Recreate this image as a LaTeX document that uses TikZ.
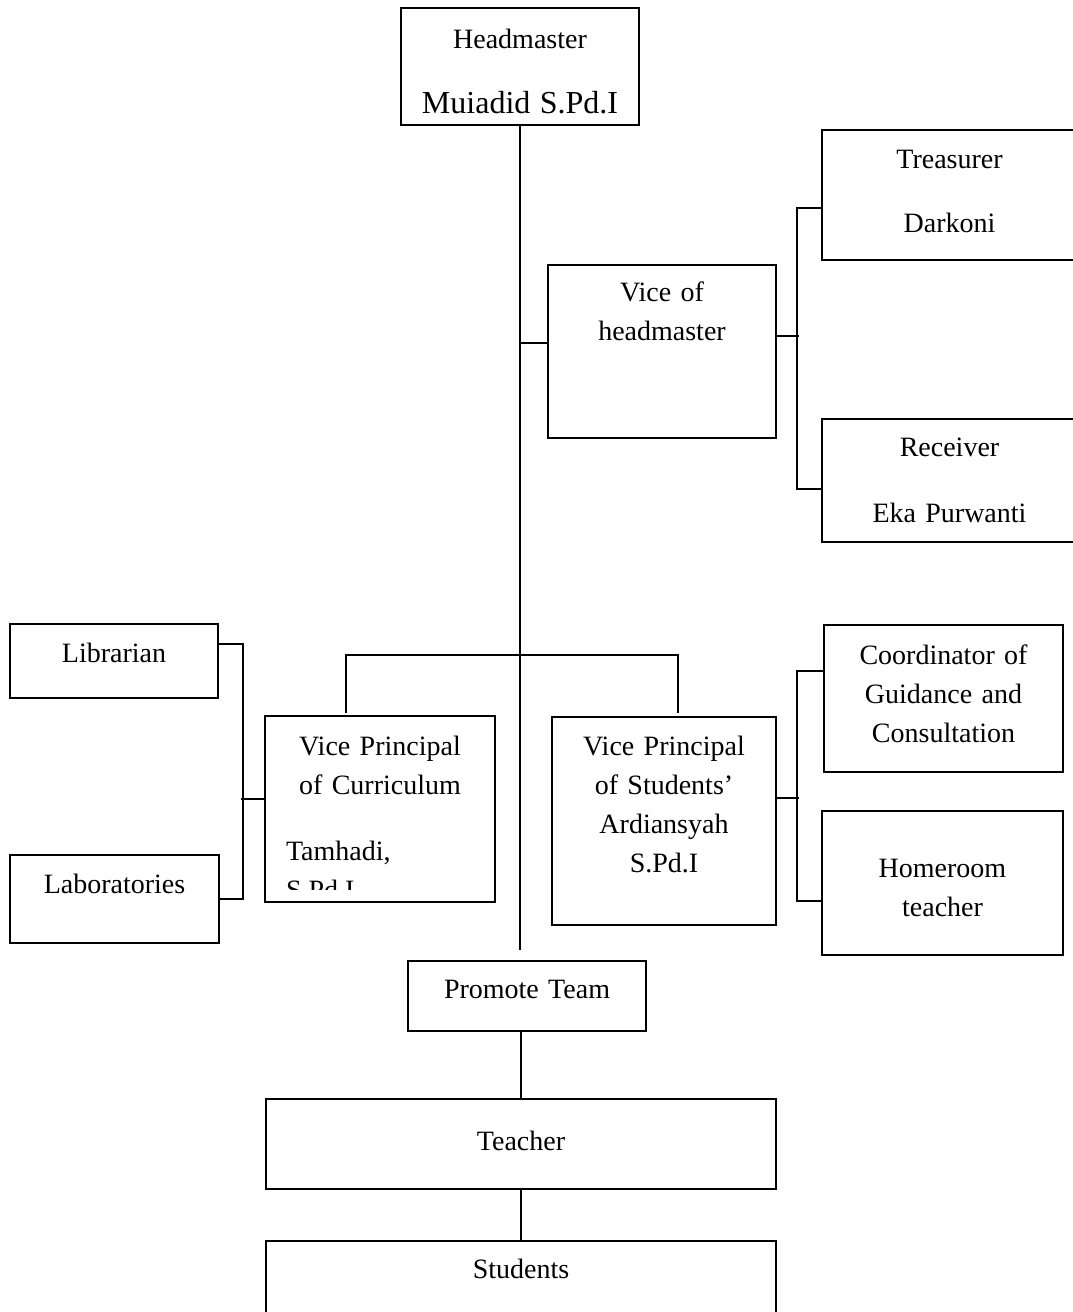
\documentclass[tikz,border=0pt]{standalone}
\usepackage{fontspec}
\setmainfont{Liberation Serif}
\usepackage{tikz}
\usetikzlibrary{positioning, calc}
\definecolor{sline}{HTML}{000000}
\tikzset{
  x=1pt, y=-1pt,
  unit/.style n args={3}{
    draw=sline, line width=2pt, inner sep=0pt, anchor=north west,
    align=center, font=\fontsize{28}{39}\selectfont,
    text width=#1pt, text height=#2pt, text depth=#3pt
  },
  link/.style={draw=sline, line width=1.9pt}
}
\begin{document}
\begin{tikzpicture}
  \useasboundingbox (0,0) rectangle (1073,1312);
  % top of the chart
  \node[unit={238}{40}{77}] (hm) at (400,7)
    {Headmaster\\[26pt]{\fontsize{32}{39}\selectfont Muiadid S.Pd.I}};
  \node[unit={228}{36}{137}] (vh) at (547,264) {Vice of\\headmaster};
  \node[unit={255}{38}{92}] (tre) at (821,129) {Treasurer\\[25pt]Darkoni};
  \node[unit={255}{37}{86}] (rec) at (821,418) {Receiver\\[27pt]Eka Purwanti};
  % middle row
  \node[unit={208}{38}{36}] (lib) at (9,623) {Librarian};
  \node[unit={209}{38}{50}] (lab) at (9,854) {Laboratories};
  \begin{scope}
    \clip (0,0) rectangle (1073,889);
    \node[unit={228}{38}{146}, draw=none] (cur) at (265,716)
      {Vice Principal\\of Curriculum\\[27pt]%
       \makebox[228pt][l]{\hspace{20pt}Tamhadi,}\\
       \makebox[228pt][l]{\hspace{20pt}S.Pd.I}};
  \end{scope}
  \draw[link, line width=2pt] (cur.north west) rectangle (cur.south east);
  \node[unit={224}{38}{170}] (svp) at (551,716)
    {Vice Principal\\of Students’\\Ardiansyah\\S.Pd.I};
  \node[unit={239}{39}{108}] (crd) at (823,624)
    {Coordinator of\\Guidance and\\Consultation};
  \node[unit={241}{66}{78}] (hom) at (821,810) {Homeroom\\teacher};
  % bottom
  \node[unit={238}{37}{33}] (pro) at (407,960) {Promote Team};
  \node[unit={510}{51}{39}] (tea) at (265,1098) {Teacher};
  \node[unit={510}{37}{63}] (stu) at (265,1240) {Students};

  % connectors
  \coordinate (split) at (520,655);
  \coordinate (trunkend) at (520,950);
  \draw[link] (hm.south) -- (hm.south |- trunkend);
  \draw[link] ([yshift=8.5pt]vh.west) -- ++(-27,0);
  \draw[link] ([yshift=15.5pt]vh.east) -- ++(22,0);
  \draw[link] ([yshift=-13pt]tre.west) -- ++(-24,0) |- ([yshift=-8.5pt]rec.west);
  \draw[link] ([xshift=-34pt,yshift=3pt]cur.north) |- (split)
    -| ([xshift=14pt,yshift=3pt]svp.north);
  \draw[link] ([yshift=17pt]lib.east) -- ++(24,0) |- (lab.east);
  \draw[link] ([yshift=10pt]cur.west) -- ++(-24,0);
  \draw[link] ([yshift=27.5pt]crd.west) -- ++(-26,0) |- ([yshift=-18pt]hom.west);
  \draw[link] ([yshift=23pt]svp.east) -- ++(22,0);
  \draw[link] (tea.north) -- (tea.north |- pro.south);
  \draw[link] (tea.south) -- (stu.north);
\end{tikzpicture}
\end{document}
